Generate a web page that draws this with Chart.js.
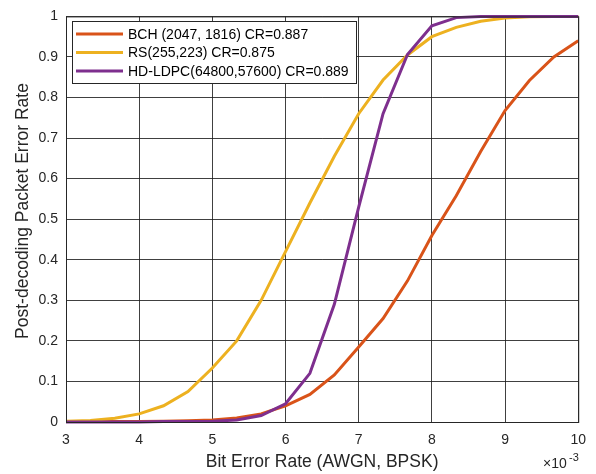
<!DOCTYPE html>
<html>
<head>
<meta charset="utf-8">
<script src="https://cdn.jsdelivr.net/npm/chart.js@4"></script>
<style>
  html, body { margin:0; padding:0; background:#fff; }
  #wrap { width:596px; height:474px; position:relative; }
</style>
</head>
<body>
<div id="wrap"><canvas id="chartPER"></canvas></div>
<script>
// ---- data (BER in units of 1e-3) ----
const BER = [3.000,3.333,3.667,4.000,4.333,4.667,5.000,5.333,5.667,6.000,6.333,6.667,7.000,7.333,7.667,8.000,8.333,8.667,9.000,9.333,9.667,10.000];
const PER_BCH  = [0.001,0.001,0.001,0.001,0.002,0.003,0.005,0.010,0.020,0.040,0.068,0.116,0.185,0.255,0.348,0.460,0.558,0.667,0.768,0.842,0.900,0.940];
const PER_RS   = [0.002,0.004,0.009,0.020,0.040,0.075,0.133,0.200,0.300,0.420,0.540,0.655,0.760,0.843,0.905,0.950,0.973,0.988,0.996,0.999,1.000,1.000];
const PER_LDPC = [0.000,0.000,0.000,0.000,0.001,0.001,0.002,0.005,0.016,0.045,0.120,0.290,0.530,0.760,0.906,0.977,0.997,1.000,1.000,1.000,1.000,1.000];
const SERIES_LABELS = ['BCH (2047, 1816) CR=0.887','RS(255,223) CR=0.875','HD-LDPC(64800,57600) CR=0.889'];
const SERIES_COLORS = ['#D95319','#EDB120','#7E2F8E'];
const X_TICKS = [3,4,5,6,7,8,9,10];
const Y_TICKS = [0,0.1,0.2,0.3,0.4,0.5,0.6,0.7,0.8,0.9,1];

const FONT = '"Liberation Sans", Arial, Helvetica, sans-serif';
const TEXT = '#262626';
const GRID = 'rgba(30,30,30,0.85)';

const toPts = ys => BER.map((x, i) => ({ x, y: ys[i] }));

const matlabDecor = {
  id: 'matlabDecor',
  afterDatasetsDraw(chart) {
    const { ctx, chartArea: a } = chart;
    ctx.save();
    // axes box
    ctx.strokeStyle = '#262626'; ctx.lineWidth = 1;
    ctx.strokeRect(a.left + 0.5, a.top + 0.5, a.right - a.left, a.bottom - a.top);
    // legend
    const lx = 72.5, ly = 21.5, lw = 284, lh = 62;
    ctx.fillStyle = '#fff'; ctx.fillRect(lx, ly, lw, lh);
    ctx.strokeStyle = '#262626'; ctx.strokeRect(lx, ly, lw, lh);
    ctx.font = '14px ' + FONT; ctx.textBaseline = 'middle'; ctx.textAlign = 'left';
    const rows = [34, 52.5, 71];
    SERIES_LABELS.forEach((lab, i) => {
      ctx.strokeStyle = SERIES_COLORS[i]; ctx.lineWidth = 3;
      ctx.beginPath(); ctx.moveTo(76, rows[i]); ctx.lineTo(123, rows[i]); ctx.stroke();
      ctx.fillStyle = '#000'; ctx.fillText(lab, 128, rows[i] + 1);
    });
    // axis titles
    ctx.fillStyle = TEXT; ctx.font = '17.5px ' + FONT;
    ctx.textAlign = 'center'; ctx.textBaseline = 'middle';
    ctx.fillText('Bit Error Rate (AWGN, BPSK)', (a.left + a.right) / 2, 462);
    ctx.save();
    ctx.translate(23, 211); ctx.rotate(-Math.PI / 2);
    ctx.fillText('Post-decoding Packet Error Rate', 0, 0);
    ctx.restore();
    // exponent label
    ctx.textAlign = 'left'; ctx.textBaseline = 'alphabetic';
    ctx.font = '14px ' + FONT;
    ctx.fillText('\u00d710', 543, 468);
    ctx.font = '11px ' + FONT;
    ctx.fillText('-3', 569, 461);
    ctx.restore();
  }
};

new Chart(document.getElementById('chartPER'), {
  type: 'line',
  data: { datasets: [
    { label: SERIES_LABELS[0], data: toPts(PER_BCH),  borderColor: SERIES_COLORS[0], order: 2 },
    { label: SERIES_LABELS[1], data: toPts(PER_RS),   borderColor: SERIES_COLORS[1], order: 1 },
    { label: SERIES_LABELS[2], data: toPts(PER_LDPC), borderColor: SERIES_COLORS[2], order: 0 }
  ].map(d => Object.assign(d, { borderWidth: 3, pointRadius: 0, tension: 0, fill: false, clip: false })) },
  options: {
    responsive: true, maintainAspectRatio: false, animation: false,
    layout: { padding: { top: 16, right: 17, left: 0, bottom: 0 } },
    plugins: { legend: { display: false }, tooltip: { enabled: false } },
    scales: {
      x: {
        type: 'linear', min: 3, max: 10,
        afterFit: s => { s.height = 52; },
        afterBuildTicks: s => { s.ticks = X_TICKS.map(v => ({ value: v })); },
        grid: { color: GRID, drawTicks: false },
        border: { display: false },
        ticks: { color: TEXT, font: { family: FONT, size: 14 }, padding: 10, maxRotation: 0 }
      },
      y: {
        type: 'linear', min: 0, max: 1,
        afterFit: s => { s.width = 66; },
        afterBuildTicks: s => { s.ticks = Y_TICKS.map(v => ({ value: v })); },
        grid: { color: GRID, drawTicks: false },
        border: { display: false },
        ticks: { color: TEXT, font: { family: FONT, size: 14 }, padding: 8,
          callback: v => String(Number(v.toFixed(1))) }
      }
    }
  },
  plugins: [matlabDecor]
});
</script>
</body>
</html>
